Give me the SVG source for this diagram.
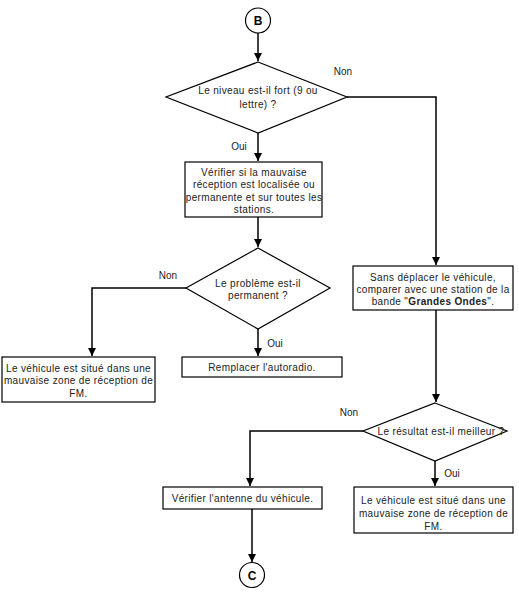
<svg xmlns="http://www.w3.org/2000/svg" width="519" height="593" viewBox="0 0 519 593">
<defs>
<marker id="arr" viewBox="0 0 8 10" refX="8" refY="5" markerWidth="8" markerHeight="10" markerUnits="userSpaceOnUse" orient="auto">
<path d="M0,1 L8,5 L0,9 Z" fill="#000"/>
</marker>
<style>
.t{font-family:"Liberation Sans",Arial,sans-serif;font-size:10px;letter-spacing:0.35px;fill:#222;text-anchor:middle}
.lb{font-family:"Liberation Sans",Arial,sans-serif;font-size:10px;fill:#222;text-anchor:middle}
.c{font-family:"Liberation Sans",Arial,sans-serif;font-size:12px;font-weight:bold;fill:#000;text-anchor:middle}
.s{fill:#fff;stroke:#000;stroke-width:1.2}
.e{fill:none;stroke:#000;stroke-width:1.5}
</style>
</defs>
<rect width="519" height="593" fill="#fff"/>
<g id="connectors">
<path class="e" d="M258,33 V61" marker-end="url(#arr)"/>
<path class="e" d="M258,133 V161" marker-end="url(#arr)"/>
<path class="e" d="M258,217 V247" marker-end="url(#arr)"/>
<path class="e" d="M186,288 H92 V356" marker-end="url(#arr)"/>
<path class="e" d="M258,329 V356" marker-end="url(#arr)"/>
<path class="e" d="M347,97 H436 V265" marker-end="url(#arr)"/>
<path class="e" d="M436,310 V402" marker-end="url(#arr)"/>
<path class="e" d="M363,431 H250 V486" marker-end="url(#arr)"/>
<path class="e" d="M435,461 V486" marker-end="url(#arr)"/>
<path class="e" d="M252,509 V562" marker-end="url(#arr)"/>
<text class="lb" x="343" y="75">Non</text>
<text class="lb" x="239" y="150">Oui</text>
<text class="lb" x="168" y="279">Non</text>
<text class="lb" x="275" y="347">Oui</text>
<text class="lb" x="349" y="416">Non</text>
<text class="lb" x="452" y="477">Oui</text>
</g>
<g id="B">
<circle class="s" cx="258" cy="20.5" r="12.5" stroke-width="1.5"/>
<text class="c" x="258" y="25">B</text>
</g>
<g id="q1">
<polygon class="s" points="258,62 347,97 258,133 166,97"/>
<text class="t" x="258" y="93.5">Le niveau est-il fort (9 ou</text>
<text class="t" x="258" y="107.5">lettre) ?</text>
</g>
<g id="verif">
<rect class="s" x="185" y="162" width="137" height="55"/>
<text class="t" x="254" y="175.5">Vérifier si la mauvaise</text>
<text class="t" x="254" y="188">réception est localisée ou</text>
<text class="t" x="254" y="200.5">permanente et sur toutes les</text>
<text class="t" x="254" y="213">stations.</text>
</g>
<g id="q2">
<polygon class="s" points="258,248 330,288 258,329 186,288"/>
<text class="t" x="258" y="286.5">Le problème est-il</text>
<text class="t" x="258" y="298.5">permanent ?</text>
</g>
<g id="fm1">
<rect class="s" x="2" y="357" width="153" height="45"/>
<text class="t" x="78.5" y="371.5">Le véhicule est situé dans une</text>
<text class="t" x="78.5" y="384">mauvaise zone de réception de</text>
<text class="t" x="78.5" y="396.5">FM.</text>
</g>
<g id="remplacer">
<rect class="s" x="182" y="357" width="160" height="20"/>
<text class="t" x="262" y="370.5">Remplacer l'autoradio.</text>
</g>
<g id="comparer">
<rect class="s" x="353" y="266" width="160" height="44"/>
<text class="t" x="433" y="280.5">Sans déplacer le véhicule,</text>
<text class="t" x="433" y="292.5">comparer avec une station de la</text>
<text class="t" x="433" y="304.5">bande "<tspan font-weight="bold">Grandes Ondes</tspan>".</text>
</g>
<g id="q3">
<polygon class="s" points="435,403 507,431 435,461 363,431"/>
<text class="t" x="441" y="434.5">Le résultat est-il meilleur ?</text>
</g>
<g id="antenne">
<rect class="s" x="163" y="487" width="159" height="22"/>
<text class="t" x="242.5" y="501.5">Vérifier l'antenne du véhicule.</text>
</g>
<g id="fm2">
<rect class="s" x="354" y="487" width="159" height="46"/>
<text class="t" x="433.5" y="503.5">Le véhicule est situé dans une</text>
<text class="t" x="433.5" y="516.5">mauvaise zone de réception de</text>
<text class="t" x="433.5" y="529.5">FM.</text>
</g>
<g id="C">
<circle class="s" cx="252" cy="575" r="12.5" stroke-width="1.5"/>
<text class="c" x="252" y="579.5">C</text>
</g>
</svg>
